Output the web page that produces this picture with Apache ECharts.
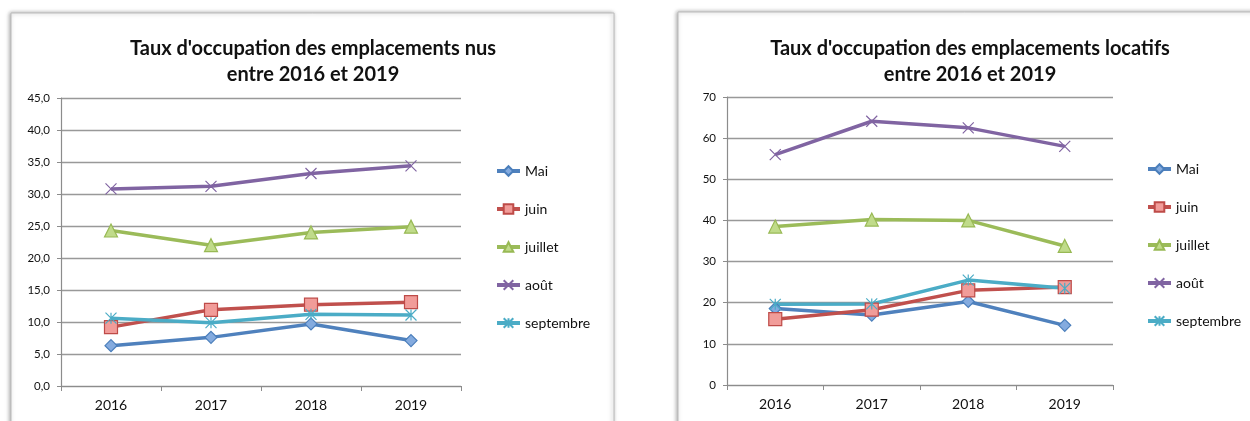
<!DOCTYPE html>
<html>
<head>
<meta charset="utf-8">
<style>
  html, body { margin: 0; padding: 0; background: #fff; }
  #main { width: 1250px; height: 421px; }
</style>
<script src="https://cdn.jsdelivr.net/npm/echarts@6/dist/echarts.min.js"></script>
</head>
<body>
<div id="main"></div>
<script>
// années (axe des x commun aux deux graphiques)
var annees = ['2016', '2017', '2018', '2019']
var mois = ['Mai', 'juin', 'juillet', 'août', 'septembre']

// emplacements nus (%)
var nusMai = [6.3, 7.6, 9.7, 7.1]
var nusJuin = [9.2, 11.9, 12.7, 13.1]
var nusJuillet = [24.3, 22.0, 24.0, 24.9]
var nusAout = [30.8, 31.2, 33.2, 34.4]
var nusSeptembre = [10.6, 9.9, 11.2, 11.1]

// emplacements locatifs (%)
var locMai = [18.6, 17.0, 20.3, 14.5]
var locJuin = [16.0, 18.3, 23.0, 23.8]
var locJuillet = [38.5, 40.2, 40.0, 33.8]
var locAout = [56.0, 64.1, 62.5, 58.0]
var locSeptembre = [19.6, 19.7, 25.5, 23.5]

var couleurs = ['#4F81BD', '#C0504D', '#9BBB59', '#8064A2', '#4BACC6']
// marqueurs façon Excel
var marqueurs = [
  { symbol: 'diamond', symbolSize: 12, fill: '#84ABDF', border: '#4A7EBB' },
  { symbol: 'rect', symbolSize: 13, fill: '#F19C99', border: '#BE4B48' },
  { symbol: 'triangle', symbolSize: 13, fill: '#C0DB8A', border: '#98B954' },
  { symbol: 'path://M0,0L10,10M10,0L0,10', symbolSize: 11, fill: 'none', border: '#8064A2' },
  { symbol: 'path://M0,0L10,10M10,0L0,10M5,0L5,10', symbolSize: 11, fill: 'none', border: '#4BACC6' }
]

var police = 'Lato, "Liberation Sans", sans-serif'

function serie(i, data, axe) {
  var m = marqueurs[i]
  return {
    name: mois[i],
    type: 'line',
    xAxisIndex: axe,
    yAxisIndex: axe,
    data: data,
    symbol: m.symbol,
    symbolSize: m.symbolSize,
    showAllSymbol: true,
    lineStyle: { width: 3.5, color: couleurs[i] },
    itemStyle: { color: m.fill === 'none' ? couleurs[i] : m.fill, borderColor: m.border, borderWidth: 1.2 },
    emphasis: { disabled: true },
    animation: false
  }
}

function axeX(grille) {
  return {
    type: 'category',
    gridIndex: grille,
    data: annees,
    boundaryGap: true,
    axisLine: { lineStyle: { color: '#8c8c8c', width: 1.2 } },
    axisTick: { show: true, length: 5, lineStyle: { color: '#8c8c8c' } },
    axisLabel: { color: '#111', fontSize: 14, fontFamily: police, margin: 12 }
  }
}

function axeY(grille, max, pas, format) {
  return {
    type: 'value',
    gridIndex: grille,
    min: 0,
    max: max,
    interval: pas,
    axisLine: { show: true, lineStyle: { color: '#8c8c8c', width: 1.2 } },
    axisTick: { show: true, length: 4, inside: false, lineStyle: { color: '#8c8c8c' } },
    splitLine: { lineStyle: { color: '#999', width: 1.4 } },
    axisLabel: { color: '#111', fontSize: 11.5, fontFamily: police, margin: 11, formatter: format }
  }
}

function titre(texte, x) {
  return {
    text: texte,
    left: x,
    top: 36,
    padding: 0,
    textAlign: 'center',
    textStyle: { fontFamily: police, fontSize: 20, fontWeight: 'bold', color: '#111', lineHeight: 26 }
  }
}

function legende(x, y) {
  return {
    orient: 'vertical',
    left: x,
    top: y,
    padding: 0,
    data: mois,
    itemWidth: 23,
    itemHeight: 12,
    itemGap: 24,
    selectedMode: false,
    lineStyle: { width: 4 },
    textStyle: { fontFamily: police, fontSize: 14, color: '#111' }
  }
}

var myChart = echarts.init(document.getElementById('main'))
myChart.setOption({
  animation: false,
  graphic: [
    {
      type: 'rect', z: -10,
      shape: { x: 11, y: 13, width: 603, height: 440 },
      style: { fill: '#fff', stroke: '#bbb', lineWidth: 1, shadowBlur: 4, shadowOffsetX: -1, shadowColor: 'rgba(0,0,0,0.35)' }
    },
    {
      type: 'rect', z: -10,
      shape: { x: 678, y: 12, width: 620, height: 440 },
      style: { fill: '#fff', stroke: '#bbb', lineWidth: 1, shadowBlur: 4, shadowOffsetX: -1, shadowColor: 'rgba(0,0,0,0.35)' }
    }
  ],
  title: [
    titre("Taux d'occupation des emplacements nus\nentre 2016 et 2019", 313),
    titre("Taux d'occupation des emplacements locatifs\nentre 2016 et 2019", 970)
  ],
  legend: [legende(495, 164), legende(1146, 162)],
  grid: [
    { left: 61, right: 789, top: 98, bottom: 35 },
    { left: 727, right: 137, top: 97, bottom: 36 }
  ],
  xAxis: [axeX(0), axeX(1)],
  yAxis: [
    axeY(0, 45, 5, function (v) { return v.toFixed(1).replace('.', ',') }),
    axeY(1, 70, 10, function (v) { return String(v) })
  ],
  series: [
    serie(0, nusMai, 0),
    serie(1, nusJuin, 0),
    serie(2, nusJuillet, 0),
    serie(3, nusAout, 0),
    serie(4, nusSeptembre, 0),
    serie(0, locMai, 1),
    serie(1, locJuin, 1),
    serie(2, locJuillet, 1),
    serie(3, locAout, 1),
    serie(4, locSeptembre, 1)
  ]
})
</script>
</body>
</html>
